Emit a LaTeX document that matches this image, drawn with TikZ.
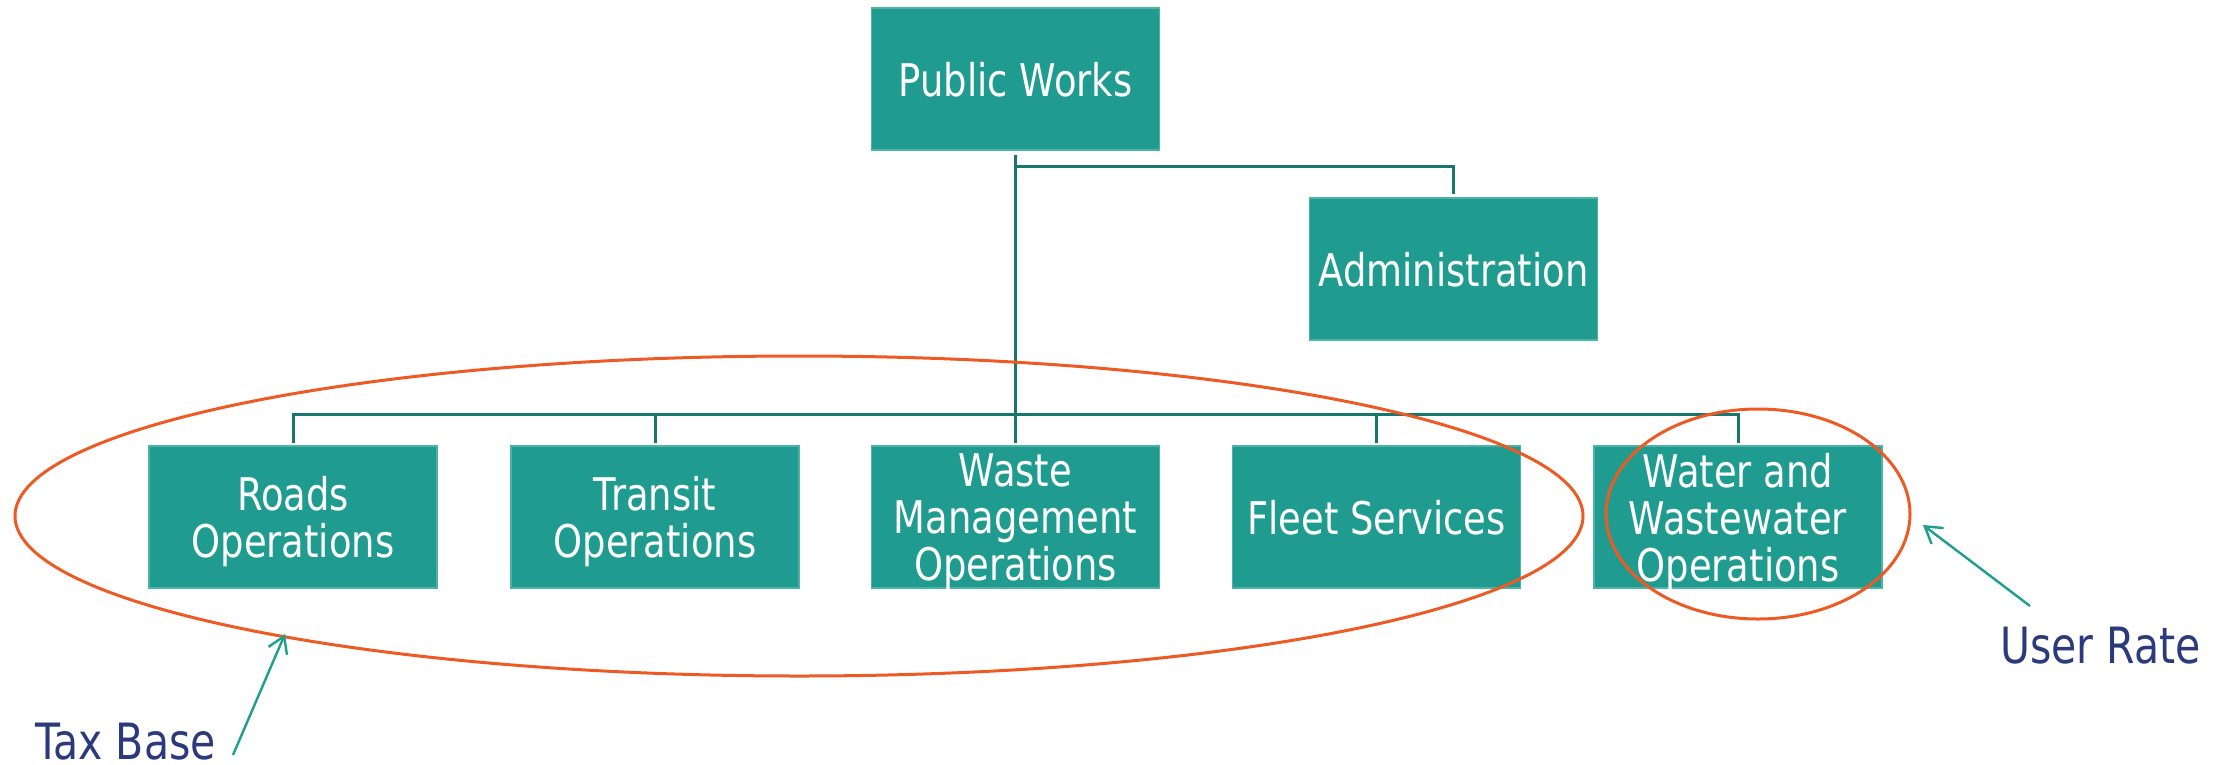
\documentclass[tikz,border=0pt]{standalone}
\usepackage{fontspec}
\setmainfont{DejaVu Sans}[FakeStretch=0.82]
\usetikzlibrary{shapes.geometric,arrows.meta}
\definecolor{boxteal}{HTML}{1F9C8F}
\definecolor{boxedge}{HTML}{4DB3A8}
\definecolor{lineteal}{HTML}{17776F}
\definecolor{ringorange}{HTML}{EE5A24}
\definecolor{arrowteal}{HTML}{1E9E8E}
\definecolor{navy}{HTML}{2B3A7C}
\begin{document}
\begin{tikzpicture}[x=1pt,y=-1pt,
  unit/.style={rectangle, fill=boxteal, draw=boxedge, line width=1.2pt,
    minimum width=288pt, minimum height=142pt, text=white, align=center,
    font=\fontsize{45}{47}\selectfont, inner sep=0pt, text depth=0pt},
  conn/.style={draw=lineteal, line width=3pt},
  ring/.style={draw=ringorange, line width=3pt, ellipse, inner sep=0pt},
  pointer/.style={draw=arrowteal, line width=2.4pt, -{Straight Barb[length=16pt,width=20pt]}},
  sidenote/.style={text=navy, font=\fontsize{50}{54}\selectfont, inner sep=0pt}]
\useasboundingbox[fill=white] (0,0) rectangle (2232,764);

\node[unit] (pw) at (1015.5,79) {Public Works};
\node[unit] (admin) at (1453.5,269) {Administration};
\node[unit] (roads) at (293,517) {Roads\\Operations};
\node[unit] (transit) at (655,517) {Transit\\Operations};
\node[unit] (waste) at (1015.5,517) {Waste\\Management\\Operations};
\node[unit] (fleet) at (1376.5,517) {Fleet Services};
\node[unit] (water) at (1738,517) {Water and\\Wastewater\\Operations};

\coordinate (adminbus) at (1016,166.5);
\coordinate (bus) at (0,414);
\draw[conn] ([yshift=-4pt]pw.south) -- ([yshift=2pt]waste.north);
\draw[conn] (pw.south |- adminbus) -| ([yshift=3pt]admin.north);
\draw[conn] ([yshift=2pt]roads.north) -- (roads.north |- bus) -- (water.north |- bus) -- ([yshift=2pt]water.north);
\draw[conn] ([yshift=2pt]transit.north) -- (transit.north |- bus);
\draw[conn] ([yshift=2pt]fleet.north) -- (fleet.north |- bus);

\node[ring, minimum width=1568pt, minimum height=320pt] (taxring) at (799,516) {};
\node[ring, minimum width=304pt, minimum height=210pt] (userring) at (1758,514) {};

\node[sidenote, anchor=base west] (taxbase) at (35,759) {Tax Base};
\node[sidenote, anchor=base west] (userrate) at (2000,663) {User Rate};

\coordinate (taxtail) at (233,755);
\coordinate (taxtip) at (285,634);
\draw[pointer] (taxtail) -- (taxtip);
\coordinate (usertail) at (2030,606);
\coordinate (usertip) at (1923,525);
\draw[pointer] (usertail) -- (usertip);
\end{tikzpicture}
\end{document}
